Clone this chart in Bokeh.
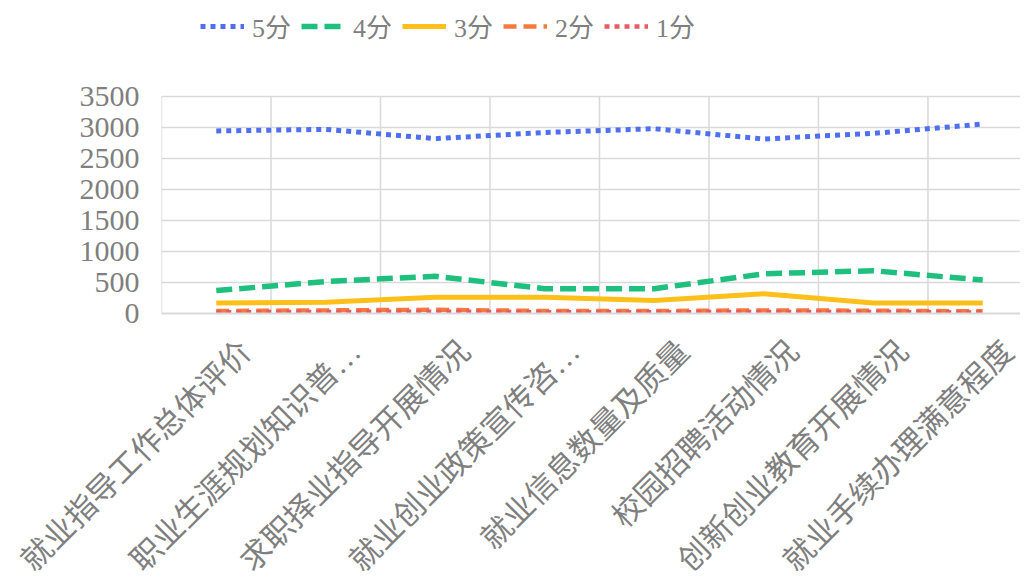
import math
from bokeh.plotting import figure
from bokeh.models import Range1d, FixedTicker, Legend, LegendItem
from bokeh.embed import file_html
from bokeh.resources import INLINE

categories = ["就业指导工作总体评价", "职业生涯规划知识普…", "求职择业指导开展情况", "就业创业政策宣传咨…",
              "就业信息数量及质量", "校园招聘活动情况", "创新创业教育开展情况", "就业手续办理满意程度"]
series_names = ["5分", "4分", "3分", "2分", "1分"]
score5 = [2945, 2970, 2820, 2920, 2980, 2815, 2905, 3055]
score4 = [370, 515, 600, 400, 400, 640, 690, 540]
score3 = [170, 180, 262, 262, 210, 320, 170, 170]
score2 = [40, 50, 60, 40, 40, 50, 45, 35]
score1 = [20, 25, 30, 20, 20, 25, 25, 15]
y_ticks = [0, 500, 1000, 1500, 2000, 2500, 3000, 3500]

colors = ["#4e70ef", "#1fbf7d", "#fdc01b", "#f47b3e", "#e95a62"]
dashes = ["5 5", "16 7", "solid", "13 7", "5 5"]
widths = [5, 5.5, 5, 4.5, 4.5]

FONT = "'Liberation Serif', 'Noto Sans CJK SC'"
GRAY = "#7f7f7f"
GRID = "#d9d9d9"

x = list(range(len(categories)))
label_off = 0.27
y_max = y_ticks[-1]
# extra room above the value area for the legend (frame extends to the top of the figure)
y_top = y_max + 96 * y_max / 217.0

p = figure(frame_width=859, frame_height=313, output_backend="svg", toolbar_location=None,
           x_range=Range1d(-0.5, 7.345), y_range=Range1d(0, y_top),
           min_border_left=161, min_border_right=0, min_border_top=0, min_border_bottom=260)
p.outline_line_color = None
p.background_fill_color = "white"
p.border_fill_color = "white"

# vertical grid lines at category boundaries, limited to the value area
bounds = [i - 0.5 for i in range(len(categories) + 1)]
p.segment(x0=bounds, y0=[0] * len(bounds), x1=bounds, y1=[y_max] * len(bounds),
          line_color=GRID, line_width=1.5)

items = []
for name, vals, c, d, w in zip(series_names, [score5, score4, score3, score2, score1], colors, dashes, widths):
    r = p.line(x, vals, line_color=c, line_width=w, line_dash=d, line_cap="butt", line_join="round")
    items.append(LegendItem(label=name, renderers=[r]))

# axes
tick_pos = [i + label_off for i in x]
p.xaxis.ticker = FixedTicker(ticks=tick_pos)
p.xaxis.major_label_overrides = {t: c for t, c in zip(tick_pos, categories)}
p.xaxis.major_label_orientation = math.pi / 4
p.xaxis.major_label_text_font = FONT
p.xaxis.major_label_text_font_size = "31px"
p.xaxis.major_label_text_color = GRAY
p.xaxis.major_tick_line_color = None
p.xaxis.major_tick_out = 0
p.xaxis.major_tick_in = 0
p.xaxis.minor_tick_line_color = None
p.xaxis.major_label_standoff = 33
p.xaxis.axis_line_color = GRID
p.xaxis.axis_line_width = 2

p.yaxis.ticker = FixedTicker(ticks=y_ticks)
p.yaxis.major_label_text_font = FONT
p.yaxis.major_label_text_font_size = "30px"
p.yaxis.major_label_text_color = GRAY
p.yaxis.major_tick_line_color = None
p.yaxis.major_tick_out = 0
p.yaxis.major_tick_in = 0
p.yaxis.minor_tick_line_color = None
p.yaxis.axis_line_color = None
p.yaxis.major_label_standoff = 22

p.xgrid.grid_line_color = None
p.ygrid.ticker = FixedTicker(ticks=y_ticks)
p.ygrid.grid_line_color = GRID
p.ygrid.grid_line_width = 1.5

legend = Legend(items=items, orientation="horizontal", location=(39, 269),
                label_text_font=FONT, label_text_font_size="26px", label_text_color=GRAY,
                glyph_width=44, glyph_height=20, label_standoff=8, spacing=10,
                padding=0, margin=0, border_line_color=None, background_fill_alpha=0)
p.add_layout(legend, "center")

open("out.html", "w").write(file_html(p, INLINE))
